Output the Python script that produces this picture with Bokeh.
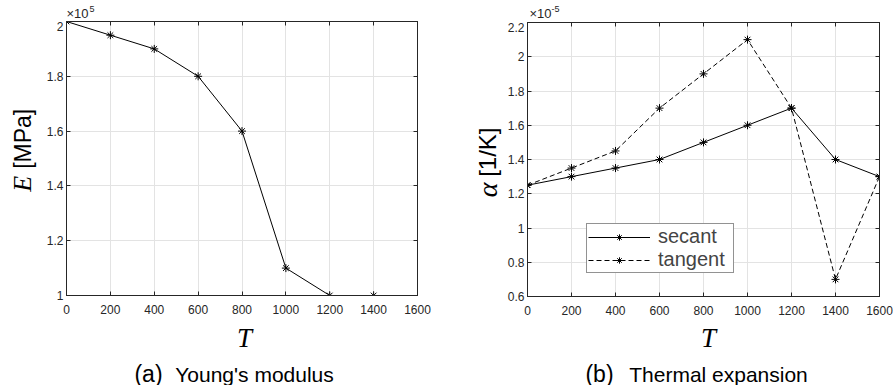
import math
from bokeh.plotting import figure
from bokeh.layouts import row, column
from bokeh.models import Legend, LegendItem, FixedTicker, LinearAxis, Range1d
from bokeh.core.properties import value
from bokeh.embed import file_html
from bokeh.resources import INLINE

# ---------------- data ----------------
T_E = [0, 200, 400, 600, 800, 1000, 1200, 1400]
E_vals = [2.0, 1.95, 1.9, 1.8, 1.6, 1.1, 1.0, 1.0]          # x 1e5 MPa

T_alpha = [0, 200, 400, 600, 800, 1000, 1200, 1400, 1600]
alpha_secant = [1.25, 1.30, 1.35, 1.40, 1.50, 1.60, 1.70, 1.40, 1.30]   # x 1e-5 1/K
alpha_tangent = [1.25, 1.35, 1.45, 1.70, 1.90, 2.10, 1.70, 0.70, 1.30]  # x 1e-5 1/K

x_ticks = [0, 200, 400, 600, 800, 1000, 1200, 1400, 1600]
E_ticks = [1.0, 1.2, 1.4, 1.6, 1.8, 2.0]
alpha_ticks = [0.6, 0.8, 1.0, 1.2, 1.4, 1.6, 1.8, 2.0, 2.2]

series_labels = ["secant", "tangent"]
captions = [("(a)", "Young's modulus"), ("(b)", "Thermal expansion")]
ylabels = [("E", "[MPa]"), ("\u03b1", "[1/K]")]
xlabel = "T"
multipliers = ["5", "-5"]

AX = "#262626"
GRID = "#e3e3e3"
SANS = "Liberation Sans"
SERIF = "Liberation Serif"


def fmt(v):
    return f"{v:g}"


def strip(width, height):
    s = figure(width=width, height=height, output_backend="svg", toolbar_location=None,
               x_range=Range1d(0, width), y_range=Range1d(0, height),
               x_axis_type=None, y_axis_type=None,
               min_border_left=0, min_border_right=0, min_border_top=0, min_border_bottom=0,
               background_fill_color="white", border_fill_color="white")
    s.outline_line_color = None
    s.xgrid.visible = False
    s.ygrid.visible = False
    return s


def txt(s, x, y, text, size, font=SANS, style="normal", angle=0.0,
        align="center", baseline="middle", color="black"):
    s.text(x=[x], y=[y], text=[text], text_font=value(font), text_font_size=value(size),
           text_font_style=value(style), angle=angle, text_align=value(align),
           text_baseline=value(baseline), text_color=color)


def make_main(width, height, left, right, top, bottom, xticks, yticks):
    p = figure(width=width, height=height, output_backend="svg", toolbar_location=None,
               x_range=Range1d(xticks[0], xticks[-1]), y_range=Range1d(yticks[0], yticks[-1]),
               min_border_left=left, min_border_right=right,
               min_border_top=top, min_border_bottom=bottom,
               background_fill_color="white", border_fill_color="white")
    p.outline_line_color = AX
    p.outline_line_width = 1
    p.xaxis.ticker = FixedTicker(ticks=xticks)
    p.yaxis.ticker = FixedTicker(ticks=yticks)
    p.xaxis.major_label_overrides = {v: fmt(v) for v in xticks}
    p.yaxis.major_label_overrides = {v: fmt(v) for v in yticks}
    for ax in (p.xaxis[0], p.yaxis[0]):
        ax.axis_line_color = AX
        ax.major_tick_line_color = AX
        ax.major_tick_in = 4
        ax.major_tick_out = 0
        ax.minor_tick_line_color = None
        ax.major_label_text_font = SANS
        ax.major_label_text_font_size = "12px"
        ax.major_label_text_color = AX
    p.xaxis.major_label_standoff = 9
    p.yaxis.major_label_standoff = 3
    for loc, tk in (("above", xticks), ("right", yticks)):
        a = LinearAxis(ticker=FixedTicker(ticks=tk), major_tick_in=4, major_tick_out=0,
                       minor_tick_line_color=None, axis_line_color=AX,
                       major_tick_line_color=AX, major_label_text_font_size="1px",
                       major_label_overrides={v: "" for v in tk},
                       major_label_standoff=0)
        p.add_layout(a, loc)
    p.xgrid.ticker = FixedTicker(ticks=xticks)
    p.ygrid.ticker = FixedTicker(ticks=yticks)
    p.xgrid.grid_line_color = GRID
    p.ygrid.grid_line_color = GRID
    return p


PAGE_H = 385
ROW_BOTTOM = 320          # page y where the plot row ends and the caption strip starts
BOT_H = PAGE_H - ROW_BOTTOM

# ======================= panel (a) =======================
# page px: frame x 66..417, y 21..295 ; panel spans x 0..440
W1, L1, TOP1 = 440, 40, 21
MAIN1 = ROW_BOTTOM - TOP1
top1 = strip(W1, TOP1)
txt(top1, 66, TOP1 - 13, "\u00d710", "13px", align="left", color=AX)
txt(top1, 89, TOP1 - 8.5, multipliers[0], "9px", align="left", color=AX)

left1 = strip(L1, MAIN1)
txt(left1, 22, ROW_BOTTOM - 149, ylabels[0][1], "23px", angle=math.pi / 2)
txt(left1, 22, ROW_BOTTOM - 198, ylabels[0][0], "26px", font=SERIF, style="italic", angle=math.pi / 2)

p1 = make_main(W1 - L1, MAIN1, 66 - L1, 23, 21 - TOP1, ROW_BOTTOM - 295, x_ticks, E_ticks)
p1.line(T_E, E_vals, line_color="black", line_width=1)
p1.scatter(T_E, E_vals, marker="asterisk", size=8, line_color="black", line_width=1)

bot1 = strip(W1, BOT_H)
txt(bot1, 244, PAGE_H - 337, xlabel, "27px", font=SERIF, style="italic")
txt(bot1, 148, PAGE_H - 373, captions[0][0], "23px", baseline="alphabetic")
txt(bot1, 254, PAGE_H - 374, captions[0][1], "21px", baseline="alphabetic")

panel1 = column(top1, row(left1, p1, spacing=0), bot1, spacing=0)

# ======================= panel (b) =======================
# page px: frame x 527..879, y 22..296 ; panel spans x 440..893
X0 = 440
W2, L2, TOP2 = 453, 62, 22
MAIN2 = ROW_BOTTOM - TOP2
top2 = strip(W2, TOP2)
txt(top2, 529 - X0, TOP2 - 13, "\u00d710", "13px", align="left", color=AX)
txt(top2, 551 - X0, TOP2 - 8.5, multipliers[1], "9px", align="left", color=AX)

left2 = strip(L2, MAIN2)
txt(left2, 487 - X0, ROW_BOTTOM - 163, ylabels[1][1], "24px", angle=math.pi / 2)
txt(left2, 487 - X0, ROW_BOTTOM - 204, ylabels[1][0], "28px", font=SERIF, style="italic", angle=math.pi / 2)

p2 = make_main(W2 - L2, MAIN2, 527 - X0 - L2, 893 - 879, 22 - TOP2, ROW_BOTTOM - 296, x_ticks, alpha_ticks)
r1 = p2.line(T_alpha, alpha_secant, line_color="black", line_width=1)
s1 = p2.scatter(T_alpha, alpha_secant, marker="asterisk", size=8, line_color="black", line_width=1)
r2 = p2.line(T_alpha, alpha_tangent, line_color="black", line_width=1, line_dash="5 3")
s2 = p2.scatter(T_alpha, alpha_tangent, marker="asterisk", size=8, line_color="black", line_width=1)

legend = Legend(items=[LegendItem(label=series_labels[0], renderers=[r1, s1]),
                       LegendItem(label=series_labels[1], renderers=[r2, s2])],
                location=(59, 23), glyph_width=62, glyph_height=16, label_height=16,
                label_width=74, spacing=0, padding=1, margin=0, label_standoff=8,
                label_text_font=SANS, label_text_font_size="20px",
                border_line_color=AX, border_line_width=1, background_fill_alpha=1)
p2.add_layout(legend)

bot2 = strip(W2, BOT_H)
txt(bot2, 708 - X0, PAGE_H - 337, xlabel, "27px", font=SERIF, style="italic")
txt(bot2, 599 - X0, PAGE_H - 373, captions[1][0], "23px", baseline="alphabetic")
txt(bot2, 718 - X0, PAGE_H - 374, captions[1][1], "21px", baseline="alphabetic")

panel2 = column(top2, row(left2, p2, spacing=0), bot2, spacing=0)

layout = row(panel1, panel2, spacing=0)
open("out.html", "w").write(file_html(layout, INLINE))
